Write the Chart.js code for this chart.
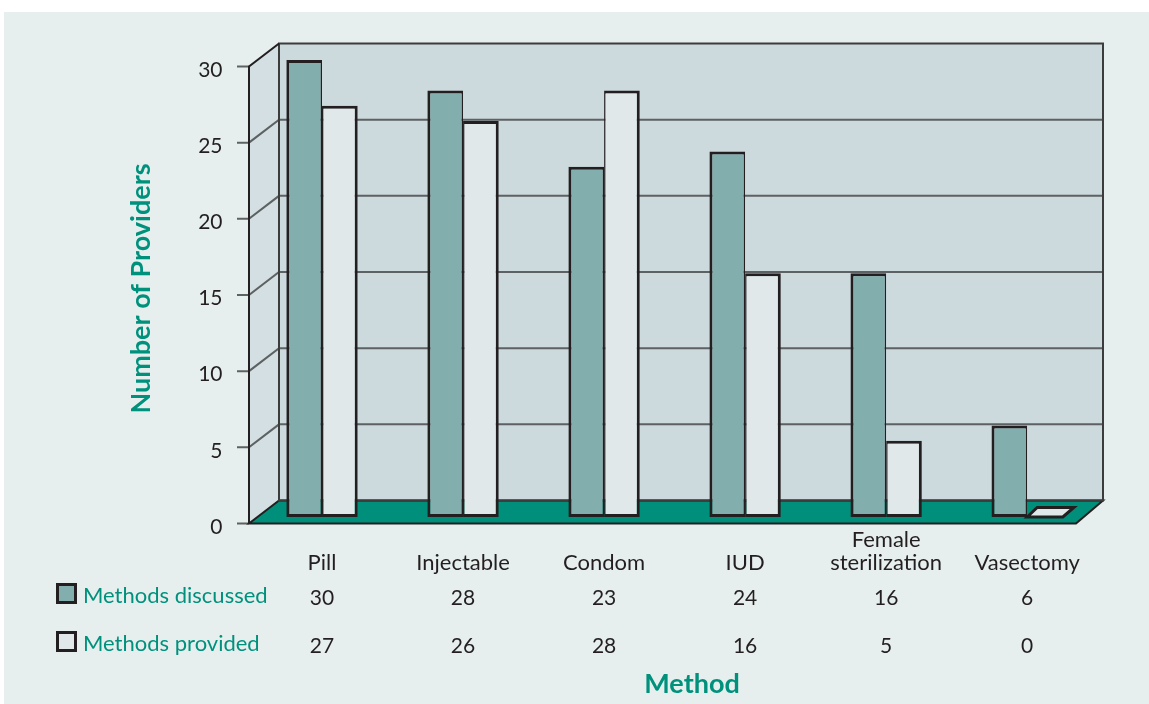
<!DOCTYPE html>
<html>
<head>
<meta charset="utf-8">
<script src="https://cdn.jsdelivr.net/npm/chart.js@4.4.1/dist/chart.umd.min.js"></script>
<style>
  html, body { margin: 0; padding: 0; background: #fff; }
  #wrap { width: 1149px; height: 704px; }
</style>
</head>
<body>
<div id="wrap"><canvas id="myChart" width="1149" height="704"></canvas></div>
<script>
(() => {
'use strict'

const methods = ['Pill', 'Injectable', 'Condom', 'IUD', ['Female', 'sterilization'], 'Vasectomy']
const discussed = [30, 28, 23, 24, 16, 6]
const provided = [27, 26, 28, 16, 5, 0]
const seriesNames = ['Methods discussed', 'Methods provided']
const yMax = 30
const yStep = 5

const ink = '#231f20'
const teal = '#00917d'
const font = 'Lato'

// 3d box behind the bars, floor, table under the axis
const frame = {
  id: 'frame',
  beforeDraw(chart) {
    const ctx = chart.ctx
    ctx.save()
    ctx.fillStyle = '#e6efee'
    ctx.fillRect(4, 12, chart.width - 4, chart.height - 12)
    ctx.restore()
  },
  beforeDatasetsDraw(chart) {
    const {ctx, chartArea: a, scales: {y}} = chart
    const fl = a.left - 2.5, fr = a.right - 21.7
    const bl = a.left + 27.5, br = a.right + 5.3
    const front = v => y.getPixelForValue(v) + 6.5
    const back = v => y.getPixelForValue(v) - 16.5
    const top = y.max

    ctx.save()
    // side wall
    ctx.fillStyle = '#d3dfe2'
    ctx.beginPath()
    ctx.moveTo(fl, front(top))
    ctx.lineTo(bl, back(top))
    ctx.lineTo(bl, back(0))
    ctx.lineTo(fl, front(0))
    ctx.closePath()
    ctx.fill()
    // back wall
    ctx.fillStyle = '#ccd9dd'
    ctx.fillRect(bl, back(top), br - bl, back(0) - back(top))

    // grid + ticks
    ctx.strokeStyle = '#5e6163'
    ctx.lineWidth = 2
    y.ticks.forEach(t => {
      const v = t.value
      ctx.beginPath()
      ctx.moveTo(fl - 12, front(v))
      ctx.lineTo(fl, front(v))
      if (v > 0 && v < top) {
        ctx.lineTo(bl, back(v))
        ctx.lineTo(br, back(v))
      }
      ctx.stroke()
    })

    // floor
    ctx.fillStyle = '#008f7b'
    ctx.strokeStyle = ink
    ctx.beginPath()
    ctx.moveTo(fl, front(0))
    ctx.lineTo(fr, front(0))
    ctx.lineTo(br, back(0))
    ctx.lineTo(bl, back(0))
    ctx.closePath()
    ctx.fill()
    ctx.stroke()

    // outlines
    ctx.strokeStyle = '#3c3c3c'
    ctx.strokeRect(bl, back(top), br - bl, back(0) - back(top))
    ctx.strokeStyle = ink
    ctx.beginPath()
    ctx.moveTo(fl, front(0))
    ctx.lineTo(fl, front(top))
    ctx.lineTo(bl, back(top))
    ctx.stroke()
    ctx.restore()
  },
  afterDatasetsDraw(chart) {
    const {ctx, scales: {x}} = chart
    ctx.save()
    // zero bars show only their top face
    chart.data.datasets.forEach((ds, di) => {
      chart.getDatasetMeta(di).data.forEach((bar, i) => {
        if (ds.data[i] !== 0) return
        const l = bar.x - bar.width / 2, r = bar.x + bar.width / 2
        ctx.beginPath()
        ctx.moveTo(l, bar.base)
        ctx.lineTo(l + 10, bar.base - 9.5)
        ctx.lineTo(r + 11, bar.base - 9.5)
        ctx.lineTo(r, bar.base)
        ctx.closePath()
        ctx.fillStyle = ds.backgroundColor
        ctx.fill()
        ctx.lineWidth = 3
        ctx.strokeStyle = ink
        ctx.stroke()
      })
    })

    // data table
    const rows = [596, 644]
    ctx.textBaseline = 'middle'
    chart.data.datasets.forEach((ds, di) => {
      const ry = rows[di]
      ctx.fillStyle = ink
      ctx.fillRect(56, ry - 13, 21, 21)
      ctx.fillStyle = ds.backgroundColor
      ctx.fillRect(59, ry - 10, 15, 15)
      ctx.fillStyle = teal
      ctx.textAlign = 'left'
      ctx.font = '22px ' + font
      ctx.fillText(ds.label, 83, ry)
      ctx.fillStyle = ink
      ctx.textAlign = 'center'
      ctx.font = '21px ' + font
      ds.data.forEach((v, i) => {
        ctx.fillText(String(v), x.getPixelForValue(i), ry + 2)
      })
    })

    ctx.fillStyle = teal
    ctx.font = 'bold 27px ' + font
    ctx.textAlign = 'center'
    ctx.fillText('Method', 692, 684)
    ctx.restore()
  }
}

const ctx2 = document.getElementById('myChart')

new Chart(ctx2, {
  type: 'bar',
  data: {
    labels: methods,
    datasets: [{
      label: seriesNames[0],
      data: discussed,
      backgroundColor: '#82aead',
      borderColor: ink,
      borderWidth: {top: 3, left: 3, bottom: 3, right: 1.5},
      borderSkipped: false
    }, {
      label: seriesNames[1],
      data: provided,
      backgroundColor: '#e1e8ea',
      borderColor: ink,
      borderWidth: {top: 3, left: 1.5, bottom: 3, right: 3},
      borderSkipped: false
    }]
  },
  options: {
    responsive: false,
    animation: false,
    categoryPercentage: 0.506,
    barPercentage: 1,
    layout: {padding: {top: 60, right: 51.3, left: 0, bottom: 0}},
    plugins: {
      legend: {display: false},
      tooltip: {enabled: false}
    },
    scales: {
      x: {
        grid: {display: false, drawTicks: false},
        border: {display: false},
        ticks: {
          color: ink,
          font: {family: font, size: 22, lineHeight: 1.045},
          padding: 22.5,
          crossAlign: 'far',
          maxRotation: 0,
          autoSkip: false
        },
        afterFit(scale) { scale.height = 187 }
      },
      y: {
        min: 0,
        max: yMax,
        grid: {display: false, drawTicks: false},
        border: {display: false},
        ticks: {
          stepSize: yStep,
          color: ink,
          font: {family: font, size: 21},
          padding: 29,
          labelOffset: 10
        },
        title: {
          display: true,
          text: 'Number of Providers',
          color: teal,
          font: {family: font, size: 27, weight: 'bold', lineHeight: 1.2},
          padding: {top: 125.5, bottom: 0}
        },
        afterFit(scale) { scale.width = 251.5 }
      }
    }
  },
  plugins: [frame]
})
})()
</script>
</body>
</html>
